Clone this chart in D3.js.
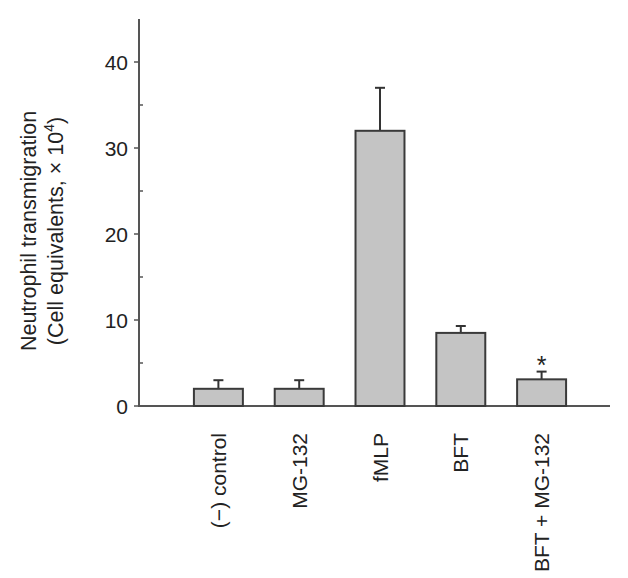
<!DOCTYPE html>
<html>
<head>
  <script src="https://d3js.org/d3.v7.min.js"></script>
  <style>
    body { margin: 0; background: #fff; }
    text { font-family: 'Liberation Sans', Arial, sans-serif; fill: #222; }
  </style>
</head>
<body>
  <div id="chart"></div>
  <script>
    var categories = ["(\u2212) control", "MG-132", "fMLP", "BFT", "BFT + MG-132"];
    var means = [2, 2, 32, 8.5, 3.1];
    var errors = [1, 1, 5, 0.8, 0.9];
    var significant = [false, false, false, false, true];
    var majorTicks = [0, 10, 20, 30, 40];
    var minorTicks = [5, 15, 25, 35];

    var width = 628, height = 578;
    var axisX = 139, axisRight = 610;

    var svg = d3.select("#chart").append("svg")
      .attr("width", width)
      .attr("height", height);

    var y = d3.scaleLinear().domain([0, 45]).range([406, 19]);

    var x = d3.scaleBand()
      .domain(categories)
      .range([178, 582])
      .paddingInner(0.394)
      .paddingOuter(0.197);

    var axisColor = "#555";

    // y axis line
    svg.append("line")
      .attr("x1", axisX).attr("x2", axisX)
      .attr("y1", y(45)).attr("y2", y(0))
      .attr("stroke", axisColor).attr("stroke-width", 2);

    // x axis line
    svg.append("line")
      .attr("x1", axisX - 1).attr("x2", axisRight)
      .attr("y1", y(0)).attr("y2", y(0))
      .attr("stroke", axisColor).attr("stroke-width", 2);

    // major ticks (outward) + labels
    var major = svg.append("g").selectAll("g")
      .data(majorTicks).enter().append("g");
    major.append("line")
      .attr("x1", axisX - 5).attr("x2", axisX)
      .attr("y1", function (d) { return y(d); })
      .attr("y2", function (d) { return y(d); })
      .attr("stroke", axisColor).attr("stroke-width", 1.5);
    major.append("text")
      .attr("x", axisX - 11)
      .attr("y", function (d) { return y(d); })
      .attr("dy", "0.36em")
      .attr("text-anchor", "end")
      .attr("font-size", 21)
      .text(function (d) { return d; });

    // minor ticks (inward)
    svg.append("g").selectAll("line")
      .data(minorTicks).enter().append("line")
      .attr("x1", axisX).attr("x2", axisX + 4)
      .attr("y1", function (d) { return y(d); })
      .attr("y2", function (d) { return y(d); })
      .attr("stroke", axisColor).attr("stroke-width", 1.5);

    // y axis title
    var title = svg.append("text")
      .attr("transform", "translate(36,231) rotate(-90)")
      .attr("text-anchor", "middle")
      .attr("font-size", 21.5);
    title.append("tspan")
      .attr("x", 0).attr("y", 0)
      .text("Neutrophil transmigration");
    title.append("tspan")
      .attr("x", 0).attr("y", 27)
      .text("(Cell equivalents, \u00d7 10");
    title.append("tspan")
      .attr("dy", -9).attr("font-size", 14)
      .text("4");
    title.append("tspan")
      .attr("dy", 9)
      .text(")");

    var bars = svg.append("g").selectAll("g")
      .data(categories).enter().append("g");

    // error bars (upper only)
    bars.append("line")
      .attr("x1", function (d) { return x(d) + x.bandwidth() / 2; })
      .attr("x2", function (d) { return x(d) + x.bandwidth() / 2; })
      .attr("y1", function (d, i) { return y(means[i]); })
      .attr("y2", function (d, i) { return y(means[i] + errors[i]); })
      .attr("stroke", "#333").attr("stroke-width", 2);
    bars.append("line")
      .attr("x1", function (d) { return x(d) + x.bandwidth() / 2 - 5; })
      .attr("x2", function (d) { return x(d) + x.bandwidth() / 2 + 5; })
      .attr("y1", function (d, i) { return y(means[i] + errors[i]); })
      .attr("y2", function (d, i) { return y(means[i] + errors[i]); })
      .attr("stroke", "#333").attr("stroke-width", 2);

    bars.append("rect")
      .attr("x", function (d) { return x(d); })
      .attr("y", function (d, i) { return y(means[i]); })
      .attr("width", x.bandwidth())
      .attr("height", function (d, i) { return y(0) - y(means[i]); })
      .attr("fill", "#c4c4c4")
      .attr("stroke", "#3a3a3a")
      .attr("stroke-width", 2);

    // significance marker
    bars.filter(function (d, i) { return significant[i]; })
      .append("text")
      .attr("x", function (d) { return x(d) + x.bandwidth() / 2; })
      .attr("y", function (d) { var i = categories.indexOf(d); return y(means[i] + errors[i]) + 2; })
      .attr("text-anchor", "middle")
      .attr("font-size", 25)
      .text("*");

    // category labels (rotated)
    svg.append("g").selectAll("text")
      .data(categories).enter().append("text")
      .attr("transform", function (d) {
        return "translate(" + (x(d) + x.bandwidth() / 2) + ",433) rotate(-90)";
      })
      .attr("text-anchor", "end")
      .attr("dy", "0.36em")
      .attr("font-size", 21)
      .text(function (d) { return d; });
  </script>
</body>
</html>
